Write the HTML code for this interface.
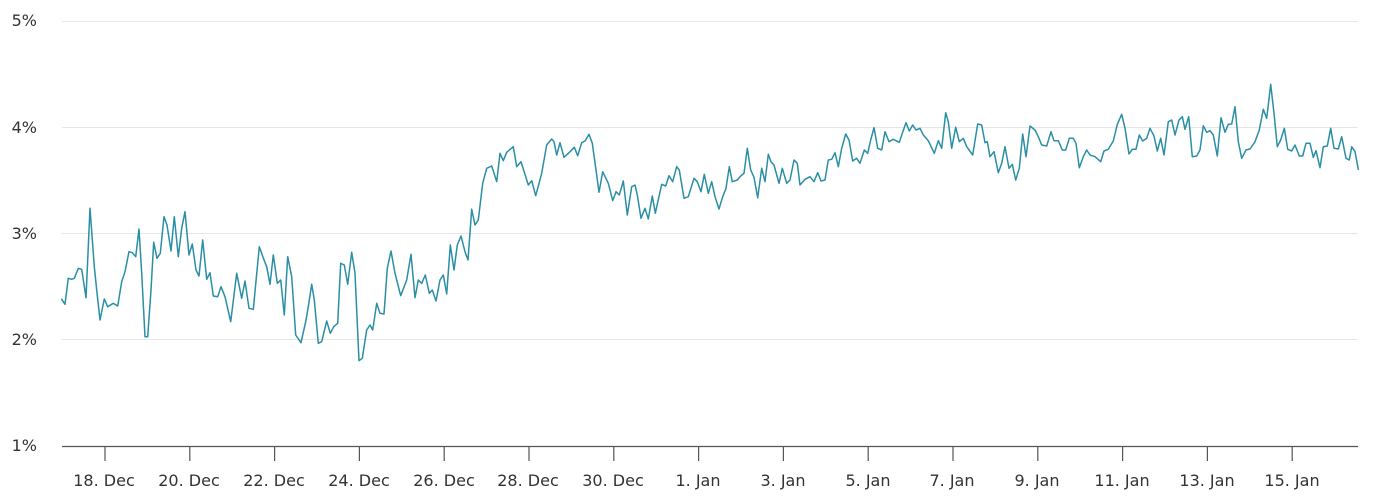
<!DOCTYPE html>
<html>
<head>
<meta charset="utf-8">
<style>
  html, body { margin: 0; padding: 0; background: #ffffff; }
  body { width: 1375px; height: 501px; overflow: hidden; }
  svg { display: block; }
  text { font-family: "DejaVu Sans", "Liberation Sans", sans-serif; font-size: 16px; fill: #333333; }
</style>
</head>
<body>
<svg width="1375" height="501" viewBox="0 0 1375 501" xmlns="http://www.w3.org/2000/svg">
  <!-- gridlines -->
  <g stroke="#e6e6e6" stroke-width="1">
    <line x1="62" y1="21.5" x2="1358" y2="21.5"/>
    <line x1="62" y1="127.5" x2="1358" y2="127.5"/>
    <line x1="62" y1="233.5" x2="1358" y2="233.5"/>
    <line x1="62" y1="339.5" x2="1358" y2="339.5"/>
  </g>
  <!-- y labels -->
  <g text-anchor="end">
    <text x="37" y="26">5%</text>
    <text x="37" y="133">4%</text>
    <text x="37" y="239">3%</text>
    <text x="37" y="345">2%</text>
    <text x="37" y="451">1%</text>
  </g>
  <!-- x axis -->
  <line x1="62" y1="446.5" x2="1358" y2="446.5" stroke="#555555" stroke-width="1.2"/>
  <g stroke="#555555" stroke-width="1.2">
    <line x1="105" y1="446" x2="105" y2="461"/>
    <line x1="189.8" y1="446" x2="189.8" y2="461"/>
    <line x1="274.6" y1="446" x2="274.6" y2="461"/>
    <line x1="359.4" y1="446" x2="359.4" y2="461"/>
    <line x1="444.2" y1="446" x2="444.2" y2="461"/>
    <line x1="529" y1="446" x2="529" y2="461"/>
    <line x1="613.8" y1="446" x2="613.8" y2="461"/>
    <line x1="698.6" y1="446" x2="698.6" y2="461"/>
    <line x1="783.4" y1="446" x2="783.4" y2="461"/>
    <line x1="868.2" y1="446" x2="868.2" y2="461"/>
    <line x1="953" y1="446" x2="953" y2="461"/>
    <line x1="1037.8" y1="446" x2="1037.8" y2="461"/>
    <line x1="1122.6" y1="446" x2="1122.6" y2="461"/>
    <line x1="1207.4" y1="446" x2="1207.4" y2="461"/>
    <line x1="1292.2" y1="446" x2="1292.2" y2="461"/>
  </g>
  <g text-anchor="middle">
    <text x="104" y="486">18. Dec</text>
    <text x="189" y="486">20. Dec</text>
    <text x="274" y="486">22. Dec</text>
    <text x="359" y="486">24. Dec</text>
    <text x="444" y="486">26. Dec</text>
    <text x="528" y="486">28. Dec</text>
    <text x="613" y="486">30. Dec</text>
    <text x="698" y="486">1. Jan</text>
    <text x="783" y="486">3. Jan</text>
    <text x="868" y="486">5. Jan</text>
    <text x="952" y="486">7. Jan</text>
    <text x="1037" y="486">9. Jan</text>
    <text x="1122" y="486">11. Jan</text>
    <text x="1207" y="486">13. Jan</text>
    <text x="1292" y="486">15. Jan</text>
  </g>
  <!-- series -->
  <polyline fill="none" stroke="#2a8fa5" stroke-width="1.5" stroke-linejoin="round" stroke-linecap="round" points="
61.7,299.3 65,304.3 68.3,278.3 71.7,279.3 74.3,278.3 78.3,268.3 81.7,269.3 86,297.7 90,208.3 94.3,266.7 96.7,290 100,320 104.3,299 107.7,306.7 113.3,303.3 117.7,306 121.7,281.7 125,271.7 129,251.7 132.3,252.7 135.7,256.7 139,229 141.7,273.3 145,336.7 147.7,336.7 151,290 153.7,242.3 157,258.3 160.3,253.3 164,216.7 167,225 171,251 174.3,216.7 178.3,256.7 181.7,228.3 185,211.7 189,255 192.3,244 196,270 199,276 202.7,240 206.7,279.3 210,272.7 213.3,296 217.7,296.7 221,286.7 225,296.7 230.7,321.7 236.7,273.3 241.7,298.3 245,281 249,308.3 253.3,309.3 259.3,246.7 264.3,260.7 266.7,266.7 270,284.3 273.3,255 277.3,283.3 280.7,280 284.3,315 287.7,256.7 291.7,276.7 295.7,335 301,342.7 305.7,321.7 308.3,306.7 311.7,284.3 314.3,300 318.3,343.3 321.7,341.7 326.7,321 330.3,333.3 333.7,326.7 337.7,323.3 340.7,263.3 344.3,265 347.7,284.3 351.7,252.3 355,273.3 359,360.7 362.3,358.3 366.7,330 370,325 372.7,330 376.7,303.3 380,313.3 384,314 387.3,268.3 391,251 395,273.3
400.7,295.7 406.7,280 411,254.3 415,297.7 418.3,280 421.7,283.3 425.3,275 429.3,293.3 432.3,290 436,301 440,280 443.3,275 446.7,294 450.3,245 454,270 457.3,245 461,236 465,251.7 468,260 471.7,209.3 475,225 478.3,220 482.7,183.3 486.7,168.3 491.7,166 496.7,181.7 500,153.3 503.3,160.7 506.7,152.3 513.3,146.7 516.7,166.7 521,161.7 528.3,185 531.7,180.7 535.7,195.7 541.7,173.3 546.7,145 551.7,139 554,141.7 556.7,155 560,142.7 564,157.3 570,151.7 574.3,147.3 577.7,155.7 581.7,142.7 585,141 589,134.3 592.3,143.3 596,170 599,192.3 602.7,171.7 608.3,183.3 612.7,200.7 616,191.7 619.3,195 623.3,181 627.3,215 631.7,186.7 635,185 637.3,195 641,218.3 645,208.3 648.3,219 652.3,196 655.3,213.3 661.7,184.3 665.7,186 669,175.7 672.7,181.7 676.7,166.7 679.3,170 684,198.3 688.3,196.7 694,178.3 697.3,181.7 701,191.7 704.3,174.3 708.3,193.3 711.7,181.7 715,196.7 719,209
722.7,196.7 726,188.3 729.3,166.7 732.3,181.7 737.3,180 740.7,176 744,173.3 747.3,148.3 750.7,170 754,177.3 757.7,197.7 761.7,168.3 765,181.7 768.3,154.3 771,161.7 774,165 779,183.3 782.3,168.3 786.7,183.3 790,180 794,160 797.3,163.3 800,185 805,179.3 810,176.7 814,181.7 817.7,172.7 821,181 825,180 828.3,160 831.7,159.3 835,152.7 838.3,166.7 841.7,148.3 845.7,134 849,140 852.7,161 856.7,158.3 860,163.3 864.3,150 867.7,153.3 870.7,140 874,127.7 877.7,148.3 881.7,150 885,131.7 889,141.7 893.3,139.3 899.3,142.3 902.3,133.3 906,122.7 909.3,131 912.7,125 916,130 920,128.3 923.3,135 928.3,140.7 934.3,153.3 938.3,140.7 941.7,148.3 945.7,112.7 948.3,121.7 951.7,148.3 955.7,127.3 959.3,141.7 963.3,138.3 966.7,146.7 972.7,155 977.7,124 981.7,125 985,142.7 987.3,141.7 990,156.7 994,151.7 998.3,172.7 1001.7,163.3 1005,146.7 1009,168.3 1012.3,164.3 1015.7,180 1019.3,168.3 1022.7,134 1026,156.7 1030,126
1035,130 1038.3,136.7 1041.7,145 1046.7,146 1051,131.7 1054,140.7 1058.3,140.7 1062.3,150 1065.7,150 1069.3,138.3 1073.3,138.3 1076,143.3 1079.3,167.7 1083.3,156.7 1086.7,150 1090,155 1095,156.7 1100.7,161.7 1104,151 1108.3,149.3 1113.3,141 1117.3,124.3 1121.7,114.3 1125,128.3 1129,154 1132.3,149.3 1136,149.3 1139.3,135 1142.7,141 1146.7,138.3 1150,128.3 1154,136 1157.3,151 1160.7,138.3 1164,155 1168.3,121.7 1171.7,120 1175,135 1179,120 1182.3,116.7 1185,129.3 1188.7,116.7 1192.3,156.7 1196.7,156 1200,150 1203.3,125.7 1206.7,132.3 1210,130.7 1213.3,135 1217.3,156 1221,117.7 1225,132.3 1228.3,124.3 1231.7,124 1235,106.7 1238.3,141.7 1241.7,158.3 1246,150 1250,149 1255,141.7 1259.3,130 1263.3,109.3 1266.7,118.3 1270.7,84.3 1274,113.3 1277.3,146.7 1280.7,140 1284.3,128.3 1287.7,149.3 1291.7,151 1295,145 1299.3,156 1302.7,156 1306,143.3 1310,143.3 1313.3,157.3 1316,150.7 1320,167.7 1323.3,146.7 1327.3,146 1330.7,128.3 1334,148.3 1338.3,149 1341.7,136.7 1346,158.3 1349.3,160 1351.7,146.7 1355,151.7 1358.3,169.3"/>
</svg>
</body>
</html>
